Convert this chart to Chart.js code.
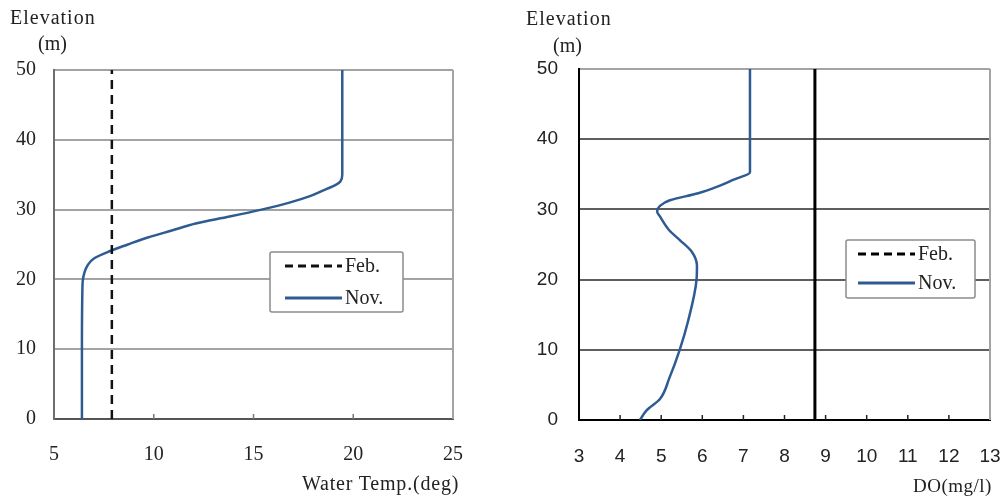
<!DOCTYPE html>
<html>
<head>
<meta charset="utf-8">
<script src="https://cdn.jsdelivr.net/npm/chart.js@4/dist/chart.umd.min.js"></script>
<style>
  body { margin: 0; background: #fff; width: 1006px; height: 499px; overflow: hidden; position: relative; font-family: "Liberation Serif", "Times New Roman", serif; color: #222; }
  .box { position: absolute; top: 0; width: 503px; height: 499px; }
  .lbl { position: absolute; font-size: 20px; line-height: 1; white-space: nowrap; }
</style>
</head>
<body>
<div class="box" style="left:0"><canvas id="tempChart" width="503" height="499"></canvas></div>
<div class="box" style="left:503px"><canvas id="doChart" width="503" height="499"></canvas></div>

<div class="lbl" style="left:10px;top:7px;letter-spacing:1px">Elevation</div>
<div class="lbl" style="left:38px;top:33px">(m)</div>
<div class="lbl" style="left:526px;top:8px;letter-spacing:1px">Elevation</div>
<div class="lbl" style="left:553px;top:35px">(m)</div>
<div class="lbl" style="left:302px;top:473px;letter-spacing:0.8px">Water Temp.(deg)</div>
<div class="lbl" style="left:913px;top:476px;font-size:19px;letter-spacing:0.5px">DO(mg/l)</div>

<script>
const seriesNames = ['Feb.', 'Nov.'];
const elevTicks = [0, 10, 20, 30, 40, 50];
const tempTicks = [5, 10, 15, 20, 25];
const doTicks = [3, 4, 5, 6, 7, 8, 9, 10, 11, 12, 13];

// water temperature profile
const febTempElev = [0, 50];
const febTemp = [7.9, 7.9];
const novTempElev = [0, 10, 18, 20, 21, 22, 23, 24, 25, 26, 27, 28, 29, 30, 31, 32, 33, 33.5, 34, 35, 40, 50];
const novTemp = [6.4, 6.4, 6.42, 6.45, 6.53, 6.68, 7.0, 7.75, 8.7, 9.7, 10.9, 12.1, 13.8, 15.4, 16.8, 17.9, 18.7, 19.1, 19.35, 19.45, 19.45, 19.45];

// dissolved oxygen profile
const febDoElev = [0, 50];
const febDo = [8.74, 8.74];
const novDoElev = [0, 1.4, 3, 6, 10, 14, 20, 22, 24, 25.6, 27, 29, 29.7, 30.5, 31.3, 32.3, 33.2, 34.2, 35.3, 40, 50];
const novDo = [4.48, 4.65, 4.97, 5.2, 5.45, 5.65, 5.86, 5.87, 5.74, 5.46, 5.2, 4.97, 4.9, 4.97, 5.21, 5.9, 6.35, 6.75, 7.16, 7.16, 7.16];

const novBlue = '#2f5b93';

function pairs(vals, elev) {
  return vals.map((v, i) => ({ x: v, y: elev[i] }));
}

// legend box drawn inside the plot
const boxLegend = {
  id: 'boxLegend',
  afterDatasetsDraw(chart, args, opts) {
    const ctx = chart.ctx;
    ctx.save();
    ctx.beginPath();
    ctx.roundRect(opts.x, opts.y, opts.w, opts.h, 2);
    ctx.fillStyle = '#fff';
    ctx.fill();
    ctx.lineWidth = 1.5;
    ctx.strokeStyle = '#8c8c8c';
    ctx.stroke();
    ctx.font = opts.font;
    ctx.textBaseline = 'middle';
    chart.data.datasets.forEach((ds, i) => {
      const y = opts.y + opts.first + i * opts.gap;
      ctx.beginPath();
      ctx.setLineDash(ds.legendDash || []);
      ctx.strokeStyle = ds.borderColor;
      ctx.lineWidth = 3;
      ctx.moveTo(opts.x + opts.lineX, y);
      ctx.lineTo(opts.x + opts.lineX + opts.lineW, y);
      ctx.stroke();
      ctx.setLineDash([]);
      ctx.fillStyle = '#222';
      ctx.fillText(ds.label, opts.x + opts.lineX + opts.lineW + 3, y + 1);
    });
    ctx.restore();
  }
};

// right border and short inward ticks on the x axis
const frame = {
  id: 'frame',
  beforeDatasetsDraw(chart, args, opts) {
    const { ctx, chartArea } = chart;
    const xs = chart.scales.x;
    ctx.save();
    ctx.strokeStyle = opts.edge;
    ctx.lineWidth = 2;
    ctx.beginPath();
    ctx.moveTo(chartArea.right, chartArea.top);
    ctx.lineTo(chartArea.right, chartArea.bottom);
    ctx.stroke();
    ctx.strokeStyle = opts.tick;
    ctx.lineWidth = 1.5;
    xs.ticks.forEach(t => {
      if (t.value <= xs.min || t.value >= xs.max) return;
      const px = xs.getPixelForValue(t.value);
      ctx.beginPath();
      ctx.moveTo(px, chartArea.bottom);
      ctx.lineTo(px, chartArea.bottom - 5);
      ctx.stroke();
    });
    ctx.restore();
  }
};

function makeChart(id, cfg) {
  return new Chart(document.getElementById(id), {
    type: 'line',
    data: { datasets: cfg.datasets },
    options: {
      responsive: false,
      animation: false,
      indexAxis: 'y',
      layout: { padding: cfg.padding },
      elements: { point: { radius: 0 } },
      plugins: {
        legend: { display: false },
        tooltip: { enabled: false },
        boxLegend: cfg.legend,
        frame: cfg.frame
      },
      scales: {
        x: {
          type: 'linear', axis: 'x', position: 'bottom',
          min: cfg.xTicks[0], max: cfg.xTicks[cfg.xTicks.length - 1],
          afterBuildTicks: s => { s.ticks = cfg.xTicks.map(v => ({ value: v })); },
          afterFit: s => { s.height = cfg.xHeight; s.paddingLeft = 10; s.paddingRight = 10; },
          grid: { display: false, drawTicks: false },
          border: { color: cfg.xBorder, width: 2 },
          ticks: { color: '#222', font: cfg.xFont, padding: cfg.xPad, maxRotation: 0 }
        },
        y: {
          type: 'linear', axis: 'y', position: 'left',
          min: 0, max: 50,
          afterBuildTicks: s => { s.ticks = elevTicks.map(v => ({ value: v })); },
          afterFit: s => { s.width = cfg.yWidth; },
          grid: {
            drawTicks: false, lineWidth: 2,
            color: c => c.tick.value === 50 ? cfg.edge : cfg.gridColor
          },
          border: { color: cfg.yBorder, width: 2 },
          ticks: { color: '#222', font: cfg.yFont, padding: cfg.yPad }
        }
      }
    },
    plugins: [frame, boxLegend]
  });
}

const serif = { family: '"Liberation Serif", serif', size: 20 };
const sans = { family: '"Liberation Sans", Arial, sans-serif', size: 19 };

makeChart('tempChart', {
  datasets: [
    { label: seriesNames[0], data: pairs(febTemp, febTempElev), borderColor: '#111', borderWidth: 2.5, borderDash: [9, 6], legendDash: [8, 5] },
    { label: seriesNames[1], data: pairs(novTemp, novTempElev), borderColor: novBlue, borderWidth: 2.5, cubicInterpolationMode: 'monotone' }
  ],
  padding: { left: 0, right: 50, top: 70, bottom: 0 },
  xTicks: tempTicks, xHeight: 80, yWidth: 54,
  xFont: serif, yFont: serif, xPad: 24, yPad: 18,
  xBorder: '#555', yBorder: '#6e6e6e', gridColor: '#a3a3a3', edge: '#a3a3a3',
  frame: { edge: '#a3a3a3', tick: '#777' },
  legend: { x: 270, y: 252, w: 133, h: 60, first: 14, gap: 32, lineX: 15, lineW: 57, font: '20px "Liberation Serif", serif' }
});

makeChart('doChart', {
  datasets: [
    { label: seriesNames[0], data: pairs(febDo, febDoElev), borderColor: '#000', borderWidth: 3, legendDash: [8, 5] },
    { label: seriesNames[1], data: pairs(novDo, novDoElev), borderColor: novBlue, borderWidth: 2.5, cubicInterpolationMode: 'monotone' }
  ],
  padding: { left: 0, right: 16, top: 69, bottom: 0 },
  xTicks: doTicks, xHeight: 79, yWidth: 76,
  xFont: sans, yFont: sans, xPad: 25, yPad: 21,
  xBorder: '#000', yBorder: '#000', gridColor: '#5e5e5e', edge: '#a3a3a3',
  frame: { edge: '#a3a3a3', tick: '#222' },
  legend: { x: 343, y: 240, w: 129, h: 58, first: 14, gap: 29, lineX: 12, lineW: 57, font: '20px "Liberation Serif", serif' }
});
</script>
</body>
</html>
